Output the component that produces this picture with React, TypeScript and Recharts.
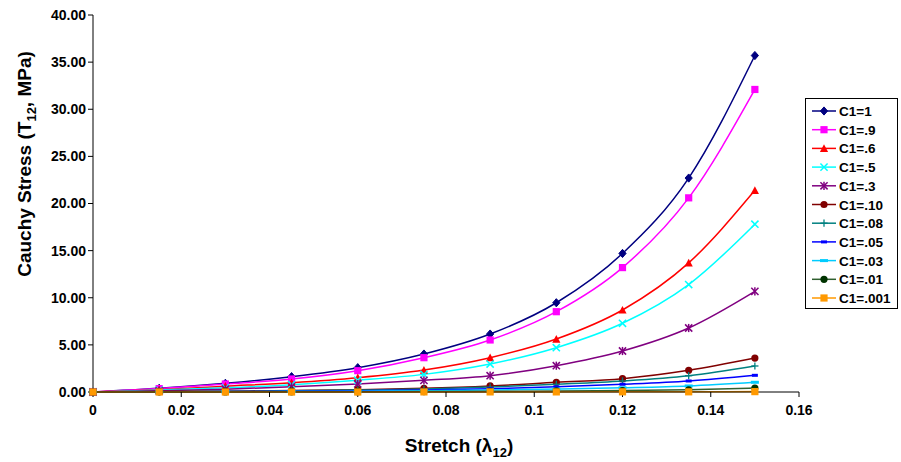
import React from "react";
import { LineChart, Line, XAxis, YAxis, Legend } from "recharts";

const stretch = [0, 0.015, 0.03, 0.045, 0.06, 0.075, 0.09, 0.105, 0.12, 0.135, 0.15];

const c1_1 = [0, 0.39, 0.92, 1.63, 2.58, 4.03, 6.15, 9.47, 14.7, 22.7, 35.7];
const c1_09 = [0, 0.36, 0.85, 1.38, 2.26, 3.64, 5.52, 8.52, 13.2, 20.6, 32.1];
const c1_06 = [0, 0.25, 0.62, 0.99, 1.52, 2.33, 3.64, 5.62, 8.7, 13.7, 21.4];
const c1_05 = [0, 0.2, 0.45, 0.78, 1.25, 1.87, 2.97, 4.7, 7.29, 11.4, 17.8];
const c1_03 = [0, 0.12, 0.3, 0.55, 0.85, 1.24, 1.73, 2.79, 4.35, 6.79, 10.68];
const c1_010 = [0, 0.04, 0.09, 0.16, 0.25, 0.39, 0.64, 1.03, 1.41, 2.3, 3.6];
const c1_008 = [0, 0.03, 0.07, 0.12, 0.2, 0.32, 0.52, 0.82, 1.17, 1.73, 2.76];
const c1_005 = [0, 0.02, 0.04, 0.08, 0.14, 0.22, 0.35, 0.55, 0.82, 1.17, 1.77];
const c1_003 = [0, 0.01, 0.02, 0.05, 0.08, 0.13, 0.2, 0.32, 0.45, 0.64, 1.03];
const c1_001 = [0, 0.0, 0.01, 0.02, 0.03, 0.04, 0.07, 0.11, 0.16, 0.23, 0.42];
const c1_0001 = [0, 0, 0, 0, 0, 0.01, 0.01, 0.01, 0.02, 0.02, 0.04];

const xTicks = [0, 0.02, 0.04, 0.06, 0.08, 0.1, 0.12, 0.14, 0.16];
const yTicks = [0, 5, 10, 15, 20, 25, 30, 35, 40];

const seriesNames = ["C1=1", "C1=.9", "C1=.6", "C1=.5", "C1=.3", "C1=.10", "C1=.08", "C1=.05", "C1=.03", "C1=.01", "C1=.001"];
const seriesValues = [c1_1, c1_09, c1_06, c1_05, c1_03, c1_010, c1_008, c1_005, c1_003, c1_001, c1_0001];
const seriesColors = ["#000080", "#FF00FF", "#FF0000", "#00FFFF", "#800080", "#800000", "#008080", "#0000FF", "#00CCFF", "#2F5F2F", "#FF9900"];
const markerColors = ["#000080", "#FF00FF", "#FF0000", "#00FFFF", "#800080", "#800000", "#008080", "#0000FF", "#00CCFF", "#003300", "#FF9900"];
const markerShapes = ["diamond", "square", "triangle", "x", "star", "circle", "plus", "dash", "longdash", "circle", "square"];

const data = stretch.map((x, i) => {
  const row: any = { x };
  seriesNames.forEach((n, s) => {
    row["s" + s] = seriesValues[s][i];
  });
  return row;
});

const FONT = "'Liberation Sans', Arial, sans-serif";

function Marker({ shape, cx, cy, color }: { shape: string; cx: number; cy: number; color: string }) {
  const r = 3.6;
  switch (shape) {
    case "diamond":
      return <polygon points={`${cx},${cy - r - 0.5} ${cx + r},${cy} ${cx},${cy + r + 0.5} ${cx - r},${cy}`} fill={color} stroke={color} />;
    case "square":
      return <rect x={cx - r} y={cy - r} width={2 * r} height={2 * r} fill={color} />;
    case "triangle":
      return <polygon points={`${cx},${cy - r - 0.5} ${cx + r + 0.5},${cy + r} ${cx - r - 0.5},${cy + r}`} fill={color} />;
    case "x":
      return (
        <g stroke={color} strokeWidth={1.5}>
          <line x1={cx - r} y1={cy - r} x2={cx + r} y2={cy + r} />
          <line x1={cx - r} y1={cy + r} x2={cx + r} y2={cy - r} />
        </g>
      );
    case "star":
      return (
        <g stroke={color} strokeWidth={1.5}>
          <line x1={cx - r} y1={cy - r} x2={cx + r} y2={cy + r} />
          <line x1={cx - r} y1={cy + r} x2={cx + r} y2={cy - r} />
          <line x1={cx} y1={cy - r - 0.5} x2={cx} y2={cy + r + 0.5} />
        </g>
      );
    case "circle":
      return <circle cx={cx} cy={cy} r={r} fill={color} />;
    case "plus":
      return (
        <g stroke={color} strokeWidth={1.3}>
          <line x1={cx - r} y1={cy} x2={cx + r} y2={cy} />
          <line x1={cx} y1={cy - r} x2={cx} y2={cy + r} />
        </g>
      );
    case "dash":
      return <rect x={cx - 3} y={cy - 1.5} width={6} height={3} fill={color} />;
    case "longdash":
      return <rect x={cx - 4} y={cy - 1.5} width={8} height={3} fill={color} />;
    default:
      return <circle cx={cx} cy={cy} r={r} fill={color} />;
  }
}

const makeDot = (s: number) => (props: any) => {
  const { cx, cy, index } = props;
  if (cx == null || cy == null) return <g key={`d${s}-${index}`} />;
  return (
    <g key={`d${s}-${index}`}>
      <Marker shape={markerShapes[s]} cx={cx} cy={cy} color={markerColors[s]} />
    </g>
  );
};

const LegendContent = () => (
  <div
    style={{
      border: "1px solid #000",
      background: "#fff",
      width: 93,
      height: 211,
      boxSizing: "border-box",
    }}
  >
    <svg width={91} height={209} style={{ display: "block", overflow: "visible" }}>
      {seriesNames.map((n, s) => {
        const y = 12 + s * 18.7;
        return (
          <g key={n}>
            <line x1={6} y1={y} x2={30} y2={y} stroke={seriesColors[s]} strokeWidth={1.5} />
            <Marker shape={markerShapes[s]} cx={18} cy={y} color={markerColors[s]} />
            <text x={33} y={y + 5} fontFamily={FONT} fontWeight="bold" fontSize={13.5} fill="#000">
              {n}
            </text>
          </g>
        );
      })}
    </svg>
  </div>
);

const YLabel = () => (
  <text
    transform="translate(31,164) rotate(-90)"
    textAnchor="middle"
    fontFamily={FONT}
    fontWeight="bold"
    fontSize={19}
    fill="#000"
  >
    Cauchy Stress (T<tspan fontSize={13} dy={5}>12</tspan>
    <tspan dy={-5}>, MPa)</tspan>
  </text>
);

const XLabel = () => (
  <text x={459} y={452} textAnchor="middle" fontFamily={FONT} fontWeight="bold" fontSize={19} fill="#000">
    Stretch (λ<tspan fontSize={13} dy={5}>12</tspan>
    <tspan dy={-5}>)</tspan>
  </text>
);

export default function App() {
  return (
    <div style={{ position: "absolute", left: 0, top: 0, width: 901, height: 462, background: "#fff" }}>
      <LineChart width={901} height={462} data={data} margin={{ top: 15, right: 9, bottom: 20, left: 0 }}>
        <XAxis
          dataKey="x"
          type="number"
          domain={[0, 0.16]}
          ticks={xTicks}
          tickFormatter={(v: number) => String(v)}
          stroke="#000"
          tickSize={5}
          height={50}
          tick={{ fill: "#000", fontFamily: FONT, fontWeight: "bold", fontSize: 14, dy: 6 }}
          interval={0}
          label={{ content: () => <XLabel /> }}
        />
        <YAxis
          type="number"
          domain={[0, 40]}
          ticks={yTicks}
          tickFormatter={(v: number) => v.toFixed(2)}
          stroke="#000"
          tickSize={5}
          width={93}
          interval={0}
          tick={{ fill: "#000", fontFamily: FONT, fontWeight: "bold", fontSize: 14 }}
          label={{ content: () => <YLabel /> }}
        />
        <Legend
          layout="vertical"
          align="right"
          verticalAlign="top"
          content={<LegendContent />}
          wrapperStyle={{ position: "absolute", left: 805, top: 98, width: 93, height: 211 }}
        />
        {seriesNames.map((n, s) => (
          <Line
            key={n}
            name={n}
            dataKey={"s" + s}
            type="monotone"
            stroke={seriesColors[s]}
            strokeWidth={1.5}
            dot={makeDot(s)}
            activeDot={false}
            isAnimationActive={false}
          />
        ))}
      </LineChart>
    </div>
  );
}
